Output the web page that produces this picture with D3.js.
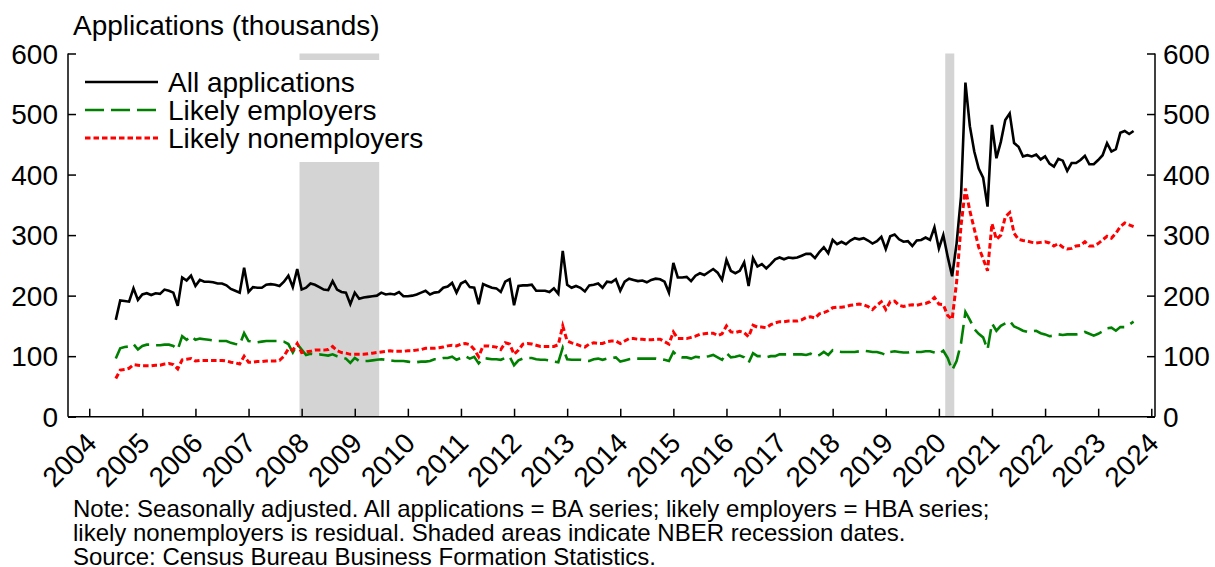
<!DOCTYPE html>
<html>
<head>
<meta charset="utf-8">
<script src="https://cdn.jsdelivr.net/npm/d3@7"></script>
<style>
  body { margin: 0; background: #fff; }
  text { font-family: "Liberation Sans", Arial, sans-serif; fill: #000; }
</style>
</head>
<body>
<svg></svg>
<script>
// Monthly data, July 2004 - September 2023 (thousands)
var startYear = 2004, startMonth = 7;

var allApps = [
  160, 192, 191, 190, 212, 193,
  202, 204, 201, 204, 203, 210, 208, 205, 183, 230, 225, 233,
  216, 226, 223, 223, 222, 220, 220, 217, 211, 208, 205, 246,
  206, 214, 213, 213, 218, 219, 218, 216, 223, 233, 214, 244,
  210, 213, 220, 218, 214, 210, 209, 224, 210, 206, 205, 186,
  205, 195, 197, 198, 199, 200, 205, 202, 203, 202, 206, 199,
  199, 200, 202, 205, 208, 202, 205, 206, 213, 215, 221, 205,
  220, 224, 214, 213, 186, 219, 216, 213, 212, 206, 223, 227,
  184, 216, 217, 217, 218, 208, 208, 208, 206, 212, 203, 274,
  218, 213, 216, 213, 207, 217, 218, 220, 213, 223, 222, 227,
  208, 223, 228, 226, 224, 225, 222, 226, 228, 227, 223, 205,
  254, 230, 230, 231, 224, 233, 237, 234, 239, 244, 238, 226,
  259, 241, 237, 241, 255, 216, 262, 248, 252, 245, 252, 260,
  263, 260, 263, 262, 263, 266, 269, 269, 262, 272, 280, 270,
  292, 285, 289, 285, 291, 295, 293, 295, 291, 286, 290, 297,
  277, 298, 301, 293, 289, 290, 282, 291, 292, 296, 292, 313,
  278, 300, 264, 232, 286, 363, 552, 480, 438, 410, 395, 347,
  482, 427, 454, 490, 501, 452, 446, 430, 432, 430, 433, 425,
  430, 418, 413, 426, 423, 406, 419, 419, 424, 431, 417, 417,
  424, 432, 452, 438, 442, 469, 472, 467, 472
];

var likelyEmployers = [
  96, 113, 115, 116, 120, 111,
  117, 119, 119, 118, 118, 119, 119, 117, 111, 133, 127, 133,
  127, 129, 128, 127, 126, 125, 125, 125, 122, 120, 119, 138,
  125, 124, 123, 124, 125, 125, 125, 125, 124, 120, 106, 120,
  111, 102, 104, 103, 103, 102, 101, 103, 100, 98, 96, 89,
  97, 92, 92, 92, 93, 94, 95, 94, 93, 92, 92, 92,
  91, 90, 90, 91, 91, 92, 95, 95, 97, 97, 99, 94,
  97, 100, 96, 99, 88, 97, 96, 95, 95, 94, 97, 99,
  85, 93, 96, 97, 97, 95, 94, 94, 93, 91, 90, 114,
  95, 94, 94, 94, 93, 92, 95, 96, 94, 96, 97, 98,
  91, 93, 95, 96, 96, 96, 96, 96, 96, 95, 94, 92,
  107, 100, 98, 98, 96, 99, 98, 99, 100, 102, 98, 94,
  105, 98, 99, 101, 98, 89, 105, 100, 100, 98, 100, 100,
  103, 103, 103, 103, 103, 103, 102, 104, 100, 102, 107, 102,
  110, 108, 107, 107, 107, 107, 108, 109, 108, 107, 107, 105,
  102, 107, 108, 107, 106, 106, 108, 107, 107, 108, 108, 106,
  104, 109, 97, 77, 92, 121, 173, 160, 145, 137, 131, 111,
  154, 142, 150, 154, 158, 149, 146, 142, 140, 141, 142, 138,
  136, 133, 134, 136, 135, 136, 136, 136, 137, 140, 137, 134,
  137, 141, 146, 147, 142, 148, 148, 152, 157
];

var likelyNonemployers = [
  63, 77, 78, 80, 86, 85,
  84, 84, 84, 85, 85, 87, 88, 86, 79, 94, 95, 96,
  92, 93, 93, 93, 93, 93, 93, 92, 90, 89, 87, 100,
  90, 90, 91, 91, 92, 92, 92, 93, 100, 112, 110, 121,
  106, 107, 108, 110, 110, 110, 111, 116, 109, 106, 105, 103,
  103, 103, 103, 104, 105, 106, 107, 108, 109, 108, 108, 108,
  109, 109, 110, 111, 113, 113, 113, 114, 115, 117, 118, 117,
  120, 121, 119, 111, 99, 117, 117, 116, 115, 111, 122, 120,
  103, 110, 120, 121, 120, 118, 116, 116, 116, 116, 119, 150,
  125, 122, 120, 117, 115, 120, 122, 121, 121, 124, 125, 125,
  121, 125, 129, 129, 128, 128, 127, 127, 128, 128, 124, 120,
  140, 129, 129, 129, 131, 133, 136, 137, 138, 138, 134, 137,
  150, 140, 139, 141, 139, 132, 151, 148, 148, 147, 152, 155,
  157, 157, 158, 158, 158, 160, 164, 165, 163, 170, 172, 175,
  180, 181, 181, 182, 184, 185, 186, 185, 182, 177, 184, 190,
  177, 190, 191, 184, 182, 184, 185, 184, 186, 187, 190, 197,
  186, 185, 167, 161, 222, 315, 377, 340, 310, 280, 261, 241,
  319, 293, 300, 330, 337, 303, 293, 291, 290, 288, 287, 288,
  289, 287, 282, 286, 280, 277, 278, 282, 283, 289, 282, 282,
  286, 292, 298, 295, 303, 314, 320, 317, 314
];

var yTicks = [0, 100, 200, 300, 400, 500, 600];
var xTicks = d3.range(2004, 2025);
// NBER recessions, in decimal years
var recessions = [[2007.96, 2009.46], [2020.12, 2020.29]];

var seriesNames = ["All applications", "Likely employers", "Likely nonemployers"];
var seriesColors = ["#000000", "#008000", "#ff0000"];
var seriesDash = [null, "19,7", "5.5,3"];
var seriesWidth = [2.6, 2.6, 3];

var noteLines = [
  "Note: Seasonally adjusted. All applications = BA series; likely employers = HBA series;",
  "likely nonemployers is residual. Shaded areas indicate NBER recession dates.",
  "Source: Census Bureau Business Formation Statistics."
];

// Layout
var chartWidth = 1215, chartHeight = 567;
var plotLeft = 68, plotRight = 1155, plotTop = 53.5, plotBottom = 416.7;

var svg = d3.select("svg")
  .attr("width", chartWidth)
  .attr("height", chartHeight);

var x = d3.scaleLinear()
  .domain([2003.6, 2024.07])
  .range([plotLeft, plotRight]);

var y = d3.scaleLinear()
  .domain([0, 600])
  .range([plotBottom, plotTop]);

function monthYear(i) {
  return startYear + (startMonth - 1 + i) / 12;
}

// Recession shading
svg.append("g")
  .selectAll("rect")
  .data(recessions)
  .enter().append("rect")
    .attr("x", function(d) { return x(d[0]); })
    .attr("width", function(d) { return x(d[1]) - x(d[0]); })
    .attr("y", y(600))
    .attr("height", y(0) - y(600))
    .attr("fill", "#d4d4d4");

// Lines
var line = d3.line()
  .x(function(d, i) { return x(monthYear(i)); })
  .y(function(d) { return y(d); });

var series = [allApps, likelyEmployers, likelyNonemployers];

svg.append("g")
  .selectAll("path")
  .data(series)
  .enter().append("path")
    .attr("d", line)
    .attr("fill", "none")
    .attr("stroke", function(d, i) { return seriesColors[i]; })
    .attr("stroke-width", function(d, i) { return seriesWidth[i]; })
    .attr("stroke-dasharray", function(d, i) { return seriesDash[i]; })
    .attr("stroke-linejoin", "miter");

// Axes (ticks point inward)
var gLeft = svg.append("g")
  .attr("transform", "translate(" + plotLeft + ",0)")
  .call(d3.axisRight(y).tickValues(yTicks).tickSize(8).tickFormat(""));

var gRight = svg.append("g")
  .attr("transform", "translate(" + plotRight + ",0)")
  .call(d3.axisLeft(y).tickValues(yTicks).tickSize(8).tickFormat(""));

var gBottom = svg.append("g")
  .attr("transform", "translate(0," + plotBottom + ")")
  .call(d3.axisTop(x).tickValues(xTicks).tickSize(8).tickFormat(""));

[gLeft, gRight, gBottom].forEach(function(g) {
  g.selectAll("path, line").attr("stroke", "#000").attr("stroke-width", 1.5);
  g.select(".domain").attr("d", g === gBottom
    ? "M" + plotLeft + ",0H" + plotRight
    : "M0," + plotTop + "V" + plotBottom);
});

// Y tick labels on both sides
svg.append("g")
  .selectAll("text")
  .data(yTicks)
  .enter().append("text")
    .attr("x", plotLeft - 10)
    .attr("y", function(d) { return y(d) + 10; })
    .attr("text-anchor", "end")
    .attr("font-size", "28px")
    .text(function(d) { return d; });

svg.append("g")
  .selectAll("text")
  .data(yTicks)
  .enter().append("text")
    .attr("x", plotRight + 8)
    .attr("y", function(d) { return y(d) + 10; })
    .attr("text-anchor", "start")
    .attr("font-size", "28px")
    .text(function(d) { return d; });

// X tick labels rotated
svg.append("g")
  .selectAll("text")
  .data(xTicks)
  .enter().append("text")
    .attr("transform", function(d) { return "translate(" + (x(d) + 9) + "," + (plotBottom + 28) + ") rotate(-45)"; })
    .attr("text-anchor", "end")
    .attr("font-size", "28px")
    .text(function(d) { return d; });

// Axis title
svg.append("text")
  .attr("x", 73)
  .attr("y", 35)
  .attr("font-size", "28px")
  .text("Applications (thousands)");

// Legend
var legend = svg.append("g");

legend.append("rect")
  .attr("x", 76)
  .attr("y", 60)
  .attr("width", 360)
  .attr("height", 102)
  .attr("fill", "#fff");

var legendItem = legend.selectAll(".legend-item")
  .data(seriesNames)
  .enter().append("g")
    .attr("class", "legend-item")
    .attr("transform", function(d, i) { return "translate(0," + (82 + i * 28) + ")"; });

legendItem.append("line")
  .attr("x1", 85)
  .attr("x2", 158)
  .attr("y1", 0)
  .attr("y2", 0)
  .attr("stroke", function(d, i) { return seriesColors[i]; })
  .attr("stroke-width", function(d, i) { return seriesWidth[i]; })
  .attr("stroke-dasharray", function(d, i) { return seriesDash[i]; });

legendItem.append("text")
  .attr("x", 168)
  .attr("y", 10)
  .attr("font-size", "28px")
  .text(function(d) { return d; });

// Notes
svg.append("g")
  .selectAll("text")
  .data(noteLines)
  .enter().append("text")
    .attr("x", 73)
    .attr("y", function(d, i) { return 517 + i * 24; })
    .attr("font-size", "24px")
    .text(function(d) { return d; });
</script>
</body>
</html>
